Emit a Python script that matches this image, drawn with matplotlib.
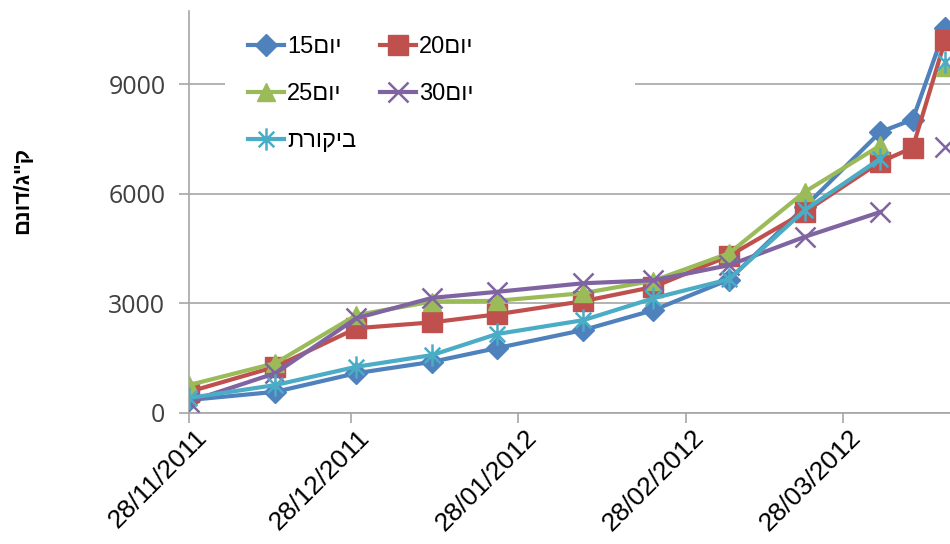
import numpy as np
import datetime as dt
import matplotlib
matplotlib.use("Agg")
import matplotlib.pyplot as plt
import matplotlib.dates as mdates
import matplotlib.transforms as mtransforms
from matplotlib.path import Path
from matplotlib.patches import Rectangle

# sampling dates
dates = ["2011-11-28", "2011-12-14", "2011-12-29", "2012-01-12", "2012-01-24",
         "2012-02-09", "2012-02-22", "2012-03-07", "2012-03-21", "2012-04-04",
         "2012-04-10", "2012-04-16"]

# yield, kg/dunam (nan = no sample)
day15 = [355, 580, 1090, 1400, 1775, 2270, 2815, 3650, 5640, 7690, 8030, 10530]
day20 = [580, 1265, 2320, 2480, 2700, 3060, 3450, 4300, 5500, 6870, 7260, 10200]
day25 = [765, 1365, 2680, 3050, 3070, 3280, 3620, 4370, 6050, 7320, np.nan, 9460]
day30 = [310, 1090, 2595, 3150, 3315, 3550, 3630, 4045, 4820, 5500, np.nan, 7280]
control = [410, 765, 1265, 1585, 2160, 2540, 3140, 3660, 5550, 6960, np.nan, 9600]

# hebrew strings are stored in visual order (matplotlib has no bidi)
labels = ["15" + "יום"[::-1], "20" + "יום"[::-1], "25" + "יום"[::-1],
          "30" + "יום"[::-1], "ביקורת"[::-1]]
ylabel = 'ק"ג/דונם'[::-1]

yticks = [0, 3000, 6000, 9000]
xtick_dates = ["2011-11-28", "2011-12-28", "2012-01-28", "2012-02-28", "2012-03-28"]

x = [dt.datetime.strptime(d, "%Y-%m-%d") for d in dates]

# excel-like star: vertical bar plus an x
star = Path([(0, -1), (0, 1), (-0.7, -0.7), (0.7, 0.7), (-0.7, 0.7), (0.7, -0.7)],
            [Path.MOVETO, Path.LINETO] * 3)

fam = ["Liberation Sans", "DejaVu Sans"]
plt.rcParams["font.family"] = fam

fig = plt.figure(figsize=(9.5, 5.44), dpi=100)
ax = fig.add_axes([189 / 950, 1 - 413 / 544, 1 - 189 / 950, 402 / 544])

series = [
    (day15, "#4F81BD", "D", 11),
    (day20, "#C0504D", "s", 14),
    (day25, "#9BBB59", "^", 13),
    (day30, "#8064A2", "x", 15),
    (control, "#4BACC6", star, 16),
]
handles = []
for (vals, col, mk, ms), lab in zip(series, labels):
    h, = ax.plot(x, vals, color=col, lw=3, marker=mk, ms=ms,
                 mew=1.8 if (mk == "x" or mk is star) else 1,
                 mec=col, mfc=col, label=lab, zorder=3)
    handles.append(h)

ax.set_ylim(0, 11000)
ax.set_xlim(x[0], x[0] + dt.timedelta(days=140.9))
ax.set_yticks(yticks)
ax.set_xticks([dt.datetime.strptime(d, "%Y-%m-%d") for d in xtick_dates])
ax.xaxis.set_major_formatter(mdates.DateFormatter("%d/%m/%Y"))

ax.grid(axis="y", color="#a6a6a6", lw=1.2)
ax.set_axisbelow(True)
for s in ["top", "right"]:
    ax.spines[s].set_visible(False)
for s in ["left", "bottom"]:
    ax.spines[s].set_color("#a6a6a6")
    ax.spines[s].set_linewidth(1.2)

ax.tick_params(axis="y", length=7, width=1.2, color="#a6a6a6", pad=10,
               labelsize=18, labelcolor="#404040")
ax.tick_params(axis="x", length=7, width=1.2, color="#a6a6a6", pad=2,
               labelsize=19, labelcolor="black")
for t in ax.get_yticklabels():
    t.set_family(["Open Sans", "DejaVu Sans"])
shift = mtransforms.ScaledTranslation(6 / 100, 0, fig.dpi_scale_trans)
for t in ax.get_xticklabels():
    t.set_rotation(45)
    t.set_ha("right")
    t.set_rotation_mode("anchor")
    t.set_transform(t.get_transform() + shift)

# white legend area (excel legend box is wider than its entries)
ax.add_patch(Rectangle(((225 - 189) / 761, (413 - 155) / 402), 410 / 761, 135 / 402,
                       transform=ax.transAxes, facecolor="white",
                       edgecolor="none", zorder=1.5))

order = [0, 2, 4, 1, 3]
leg = ax.legend([handles[i] for i in order], [labels[i] for i in order],
                ncol=2, loc="upper left", bbox_to_anchor=(0.05, 0.99),
                fontsize=17, frameon=True, facecolor="white", edgecolor="none",
                framealpha=1, fancybox=False, handlelength=1.5,
                handletextpad=0.15, columnspacing=1.0, labelspacing=1.05,
                borderpad=0.4)

fig.text(23 / 950, 1 - 190 / 544, ylabel, rotation=90, fontsize=16,
         fontweight="bold", ha="center", va="center",
         family=["Liberation Sans", "DejaVu Sans"])

fig.savefig("out.png", dpi=100)
